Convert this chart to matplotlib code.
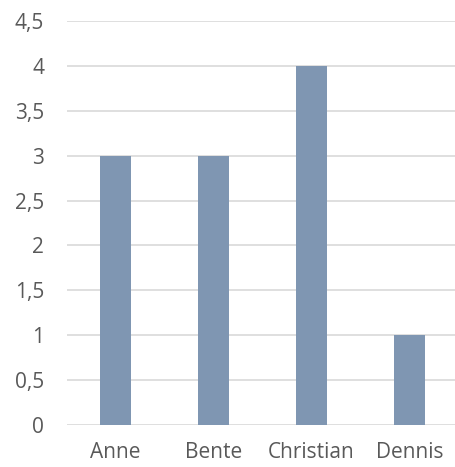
import numpy as np
import matplotlib.pyplot as plt

navne = ["Anne", "Bente", "Christian", "Dennis"]
antal = [3, 3, 4, 1]
yticks = [0, 0.5, 1, 1.5, 2, 2.5, 3, 3.5, 4, 4.5]

plt.rcParams["font.family"] = ["Open Sans", "DejaVu Sans"]

fig = plt.figure(figsize=(4.55, 4.67), dpi=100)
# plot area: 0 at y=425 px, 4.5 at y=21 px, left edge at x=66.5 px
ax = fig.add_axes([66.5 / 455, 42 / 467, (455 - 66.5) / 455, 404 / 467])

x = np.arange(len(navne))
ax.bar(x, antal, width=0.316, color="#7F96B2", zorder=3)

ax.set_xlim(-0.5, -0.5 + 388.5 / 98)
ax.set_ylim(0, 4.5)
ax.set_yticks(yticks)
ax.set_yticklabels([f"{v:g}".replace(".", ",") for v in yticks])
ax.set_xticks(x)
ax.set_xticklabels(navne)

ax.grid(axis="y", color="#D9D9D9", linewidth=1.2, zorder=0)
for s in ax.spines.values():
    s.set_visible(False)
ax.tick_params(axis="both", length=0, labelsize=15, labelcolor="#595959")
ax.tick_params(axis="y", pad=16)
ax.tick_params(axis="x", pad=12)

fig.savefig("out.png", dpi=100)
